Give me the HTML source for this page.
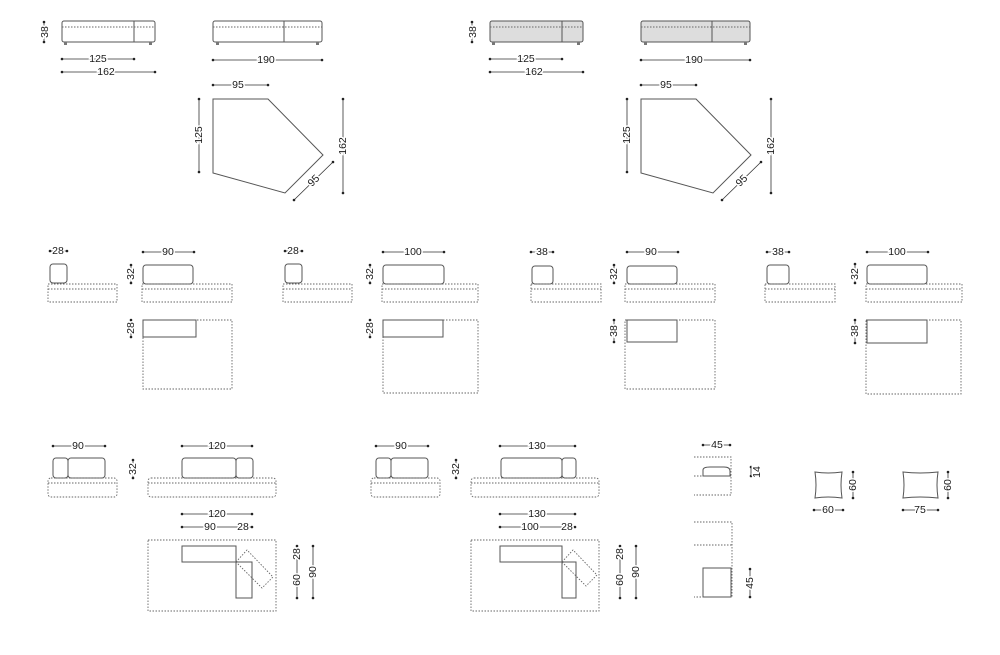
<!DOCTYPE html>
<html><head><meta charset="utf-8"><style>
html,body{margin:0;padding:0;background:#fff;width:1000px;height:655px;overflow:hidden}
svg{display:block}
text{font-family:"Liberation Sans",sans-serif;font-size:10.5px;fill:#1a1a1a;paint-order:stroke;stroke:#fff;stroke-width:3px;text-anchor:middle}
.s{fill:none;stroke:#555;stroke-width:1}
.d{fill:none;stroke:#666;stroke-width:0.9;stroke-dasharray:1.5 1.5}
.m{stroke:#333;stroke-width:0.8;marker-start:url(#dot);marker-end:url(#dot)}
</style></head><body>
<svg width="1000" height="655" viewBox="0 0 1000 655" xmlns="http://www.w3.org/2000/svg">
<defs>
<marker id="dot" viewBox="0 0 4 4" refX="2" refY="2" markerWidth="4" markerHeight="4" markerUnits="userSpaceOnUse"><circle cx="2" cy="2" r="1.3" fill="#222"/></marker>
<g id="top">
 <rect class="s" x="62" y="21" width="93" height="21" rx="2"/>
 <line class="s" x1="134" y1="21" x2="134" y2="42"/>
 <line class="d" x1="62" y1="27" x2="155" y2="27"/>
 <rect x="64" y="42" width="3" height="3" fill="#777"/><rect x="149" y="42" width="3" height="3" fill="#777"/>
 <line class="m" x1="44" y1="22" x2="44" y2="42"/><text transform="translate(48,32) rotate(-90)">38</text>
 <line class="m" x1="62" y1="59" x2="134" y2="59"/><text x="98" y="62">125</text>
 <line class="m" x1="62" y1="72" x2="155" y2="72"/><text x="106" y="75">162</text>
 <rect class="s" x="213" y="21" width="109" height="21" rx="2"/>
 <line class="s" x1="284" y1="21" x2="284" y2="42"/>
 <line class="d" x1="213" y1="27" x2="322" y2="27"/>
 <rect x="216" y="42" width="3" height="3" fill="#777"/><rect x="316" y="42" width="3" height="3" fill="#777"/>
 <line class="m" x1="213" y1="60" x2="322" y2="60"/><text x="266" y="63">190</text>
 <polygon class="s" points="213,99 268,99 323,155 285,193 213,173"/>
 <line class="m" x1="213" y1="85" x2="268" y2="85"/><text x="238" y="88">95</text>
 <line class="m" x1="199" y1="99" x2="199" y2="172"/><text transform="translate(202,135) rotate(-90)">125</text>
 <line class="m" x1="343" y1="99" x2="343" y2="193"/><text transform="translate(346,146) rotate(-90)">162</text>
 <line class="m" x1="294" y1="200" x2="333" y2="162"/><text transform="translate(316,183) rotate(-45)">95</text>
</g>
</defs>

<g transform="translate(428,0)">
 <rect x="62" y="21" width="93" height="21" fill="#ddd"/>
 <rect x="213" y="21" width="109" height="21" fill="#ddd"/>
</g>
<use href="#top"/>
<use href="#top" transform="translate(428,0)"/>

<!-- Row 2 -->
<rect class="s" x="50" y="264" width="17" height="19" rx="3"/>
<rect class="d" x="48" y="284" width="69" height="18"/><line class="d" x1="48" y1="289" x2="117" y2="289"/>
<line class="m" x1="50" y1="251" x2="67" y2="251"/><text x="58" y="254">28</text>
<rect class="s" x="143" y="265" width="50" height="19" rx="3"/>
<rect class="d" x="142" y="284" width="90" height="18"/><line class="d" x1="142" y1="289" x2="232" y2="289"/>
<line class="m" x1="143" y1="252" x2="194" y2="252"/><text x="168" y="255">90</text>
<line class="m" x1="131" y1="265" x2="131" y2="283"/><text transform="translate(134,274) rotate(-90)">32</text>
<rect class="d" x="143" y="320" width="89" height="69"/>
<rect class="s" x="143" y="320" width="53" height="17"/>
<line class="m" x1="131" y1="320" x2="131" y2="337"/><text transform="translate(134,328) rotate(-90)">28</text>

<rect class="s" x="285" y="264" width="17" height="19" rx="3"/>
<rect class="d" x="283" y="284" width="69" height="18"/><line class="d" x1="283" y1="289" x2="352" y2="289"/>
<line class="m" x1="285" y1="251" x2="302" y2="251"/><text x="293" y="254">28</text>
<rect class="s" x="383" y="265" width="61" height="19" rx="3"/>
<rect class="d" x="382" y="284" width="96" height="18"/><line class="d" x1="382" y1="289" x2="478" y2="289"/>
<line class="m" x1="383" y1="252" x2="444" y2="252"/><text x="413" y="255">100</text>
<line class="m" x1="370" y1="265" x2="370" y2="283"/><text transform="translate(373,274) rotate(-90)">32</text>
<rect class="d" x="383" y="320" width="95" height="73"/>
<rect class="s" x="383" y="320" width="60" height="17"/>
<line class="m" x1="370" y1="320" x2="370" y2="337"/><text transform="translate(373,328) rotate(-90)">28</text>

<rect class="s" x="532" y="266" width="21" height="18" rx="3"/>
<rect class="d" x="531" y="284" width="70" height="18"/><line class="d" x1="531" y1="289" x2="601" y2="289"/>
<line class="m" x1="531" y1="252" x2="553" y2="252"/><text x="542" y="255">38</text>
<rect class="s" x="627" y="266" width="50" height="18" rx="3"/>
<rect class="d" x="625" y="284" width="90" height="18"/><line class="d" x1="625" y1="289" x2="715" y2="289"/>
<line class="m" x1="627" y1="252" x2="678" y2="252"/><text x="651" y="255">90</text>
<line class="m" x1="614" y1="265" x2="614" y2="283"/><text transform="translate(617,274) rotate(-90)">32</text>
<rect class="d" x="625" y="320" width="90" height="69"/>
<rect class="s" x="627" y="320" width="50" height="22"/>
<line class="m" x1="614" y1="320" x2="614" y2="342"/><text transform="translate(617,331) rotate(-90)">38</text>

<rect class="s" x="767" y="265" width="22" height="19" rx="3"/>
<rect class="d" x="765" y="284" width="70" height="18"/><line class="d" x1="765" y1="289" x2="835" y2="289"/>
<line class="m" x1="767" y1="252" x2="789" y2="252"/><text x="778" y="255">38</text>
<rect class="s" x="867" y="265" width="60" height="19" rx="3"/>
<rect class="d" x="866" y="284" width="96" height="18"/><line class="d" x1="866" y1="289" x2="962" y2="289"/>
<line class="m" x1="867" y1="252" x2="928" y2="252"/><text x="897" y="255">100</text>
<line class="m" x1="855" y1="264" x2="855" y2="283"/><text transform="translate(858,274) rotate(-90)">32</text>
<rect class="d" x="866" y="320" width="95" height="74"/>
<rect class="s" x="867" y="320" width="60" height="23"/>
<line class="m" x1="855" y1="320" x2="855" y2="343"/><text transform="translate(858,331) rotate(-90)">38</text>

<!-- Row 3 group A -->
<rect class="s" x="53" y="458" width="15" height="20" rx="3"/>
<rect class="s" x="68" y="458" width="37" height="20" rx="3"/>
<rect class="d" x="48" y="478" width="69" height="19" rx="3"/><line class="d" x1="48" y1="483" x2="117" y2="483"/>
<line class="m" x1="53" y1="446" x2="105" y2="446"/><text x="78" y="449">90</text>
<line class="m" x1="133" y1="460" x2="133" y2="478"/><text transform="translate(136,469) rotate(-90)">32</text>
<rect class="s" x="182" y="458" width="54" height="20" rx="3"/>
<rect class="s" x="236" y="458" width="17" height="20" rx="3"/>
<rect class="d" x="148" y="478" width="128" height="19" rx="3"/><line class="d" x1="148" y1="483" x2="276" y2="483"/>
<line class="m" x1="182" y1="446" x2="252" y2="446"/><text x="217" y="449">120</text>
<line class="m" x1="182" y1="514" x2="252" y2="514"/><text x="217" y="517">120</text>
<line class="m" x1="182" y1="527" x2="252" y2="527"/><text x="210" y="530">90</text><text x="243" y="530">28</text>
<rect class="d" x="148" y="540" width="128" height="71"/>
<rect class="s" x="182" y="546" width="54" height="16"/>
<rect class="s" x="236" y="562" width="16" height="36"/>
<polygon class="d" points="236,562 247,550 273,577 262,588"/>
<line class="m" x1="297" y1="546" x2="297" y2="598"/><text transform="translate(300,554) rotate(-90)">28</text><text transform="translate(300,580) rotate(-90)">60</text>
<line class="m" x1="313" y1="546" x2="313" y2="598"/><text transform="translate(316,572) rotate(-90)">90</text>

<!-- Row 3 group B -->
<rect class="s" x="376" y="458" width="15" height="20" rx="3"/>
<rect class="s" x="391" y="458" width="37" height="20" rx="3"/>
<rect class="d" x="371" y="478" width="69" height="19" rx="3"/><line class="d" x1="371" y1="483" x2="440" y2="483"/>
<line class="m" x1="376" y1="446" x2="428" y2="446"/><text x="401" y="449">90</text>
<line class="m" x1="456" y1="460" x2="456" y2="478"/><text transform="translate(459,469) rotate(-90)">32</text>
<rect class="s" x="501" y="458" width="61" height="20" rx="3"/>
<rect class="s" x="562" y="458" width="14" height="20" rx="3"/>
<rect class="d" x="471" y="478" width="128" height="19" rx="3"/><line class="d" x1="471" y1="483" x2="599" y2="483"/>
<line class="m" x1="500" y1="446" x2="575" y2="446"/><text x="537" y="449">130</text>
<line class="m" x1="500" y1="514" x2="575" y2="514"/><text x="537" y="517">130</text>
<line class="m" x1="500" y1="527" x2="575" y2="527"/><text x="530" y="530">100</text><text x="567" y="530">28</text>
<rect class="d" x="471" y="540" width="128" height="71"/>
<rect class="s" x="500" y="546" width="62" height="16"/>
<rect class="s" x="562" y="562" width="14" height="36"/>
<polygon class="d" points="562,562 573,550 597,575 586,586"/>
<line class="m" x1="620" y1="546" x2="620" y2="598"/><text transform="translate(623,554) rotate(-90)">28</text><text transform="translate(623,580) rotate(-90)">60</text>
<line class="m" x1="636" y1="546" x2="636" y2="598"/><text transform="translate(639,572) rotate(-90)">90</text>

<!-- Group C -->
<line class="m" x1="703" y1="445" x2="730" y2="445"/><text x="717" y="448">45</text>
<path class="d" d="M694,457 H731 V495 H694 M694,476 H731"/>
<path class="s" d="M703,476 V470 Q703,467 710,467 H724 Q730,467 730,471 V476 Z"/>
<line class="m" x1="751" y1="467" x2="751" y2="476"/><text transform="translate(760,472) rotate(-90)">14</text>
<path class="d" d="M694,522 H732 V597 H694 M694,545 H732"/>
<rect class="s" x="703" y="568" width="28" height="29"/>
<line class="m" x1="750" y1="569" x2="750" y2="597"/><text transform="translate(753,583) rotate(-90)">45</text>
<path class="s" d="M815,472 Q828,474 842,472 Q840,485 842,498 Q828,496 815,498 Q817,485 815,472 Z"/>
<line class="m" x1="853" y1="472" x2="853" y2="498"/><text transform="translate(856,485) rotate(-90)">60</text>
<line class="m" x1="814" y1="510" x2="843" y2="510"/><text x="828" y="513">60</text>
<path class="s" d="M903,472 Q920,474 938,472 Q936,485 938,498 Q920,496 903,498 Q905,485 903,472 Z"/>
<line class="m" x1="948" y1="472" x2="948" y2="498"/><text transform="translate(951,485) rotate(-90)">60</text>
<line class="m" x1="903" y1="510" x2="938" y2="510"/><text x="920" y="513">75</text>
</svg>
</body></html>
